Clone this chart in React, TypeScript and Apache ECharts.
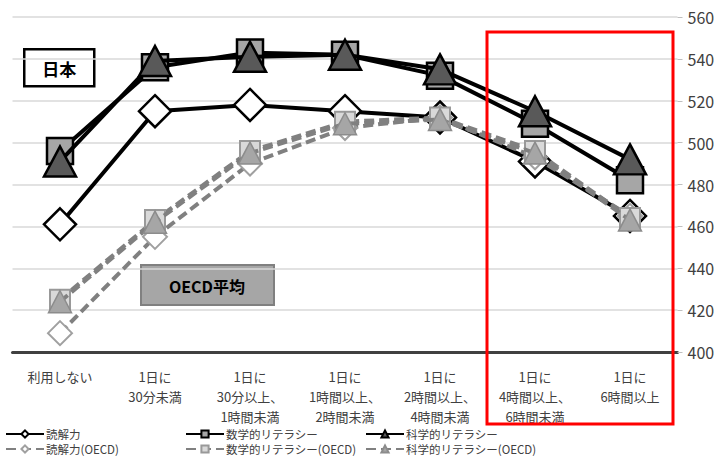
import React, { useEffect, useRef } from "react";
import * as echarts from "echarts";

const categories = [
  "利用しない",
  "1日に\n30分未満",
  "1日に\n30分以上、\n1時間未満",
  "1日に\n1時間以上、\n2時間未満",
  "1日に\n2時間以上、\n4時間未満",
  "1日に\n4時間以上、\n6時間未満",
  "1日に\n6時間以上",
];

const seriesNames = [
  "読解力",
  "数学的リテラシー",
  "科学的リテラシー",
  "読解力(OECD)",
  "数学的リテラシー(OECD)",
  "科学的リテラシー(OECD)",
];

const reading = [461, 515, 518, 515, 512, 491, 465];
const math = [496, 536, 543, 542, 532, 509, 482];
const science = [491, 539, 541, 542, 535, 515, 492];
const readingOECD = [409, 455, 490, 507, 512, 493, 465];
const mathOECD = [425, 463, 496, 510, 512, 496, 464];
const scienceOECD = [424, 462, 495, 509, 511, 495, 463];

const yTicks = [400, 420, 440, 460, 480, 500, 520, 540, 560];

const FONT = "'Noto Sans CJK JP', 'Noto Sans', sans-serif";

export default function App() {
  const ref = useRef<HTMLDivElement>(null);

  useEffect(() => {
    if (!ref.current) return;
    document.body.style.margin = "0";
    const chart = echarts.init(ref.current, undefined, { renderer: "svg" });

    const japanLine = { color: "#000000", width: 4, type: "solid" as const };
    const oecdLine = { color: "#808080", width: 4, type: [10, 5] as any };

    const legendBase = (names: string[], left: number) => ({
      data: names,
      orient: "vertical",
      left,
      top: 427,
      height: 40,
      padding: 0,
      itemWidth: 38,
      itemHeight: 9,
      itemGap: 1,
      textStyle: {
        color: "#404040",
        fontSize: 11.5,
        lineHeight: 14,
        fontFamily: FONT,
        padding: [0, 0, 0, -3],
      },
    });

    const option: any = {
      animation: false,
      backgroundColor: "#ffffff",
      textStyle: { fontFamily: FONT },
      grid: { left: 12.5, right: 43.5, top: 17, bottom: 105, containLabel: false },
      xAxis: {
        type: "category",
        data: categories,
        boundaryGap: true,
        axisLine: { show: true, lineStyle: { color: "#404040", width: 3 } },
        axisTick: { show: false },
        axisLabel: {
          color: "#404040",
          fontSize: 13,
          lineHeight: 20,
          margin: 14,
          interval: 0,
          fontFamily: FONT,
        },
        splitLine: { show: false },
      },
      yAxis: {
        type: "value",
        position: "right",
        min: yTicks[0],
        max: yTicks[yTicks.length - 1],
        interval: 20,
        axisLine: { show: false },
        axisTick: { show: true, length: 5, lineStyle: { color: "#bfbfbf" } },
        axisLabel: { color: "#404040", fontSize: 16, margin: 10, fontFamily: FONT },
        splitLine: { show: true, lineStyle: { color: "#d9d9d9", width: 1.5 } },
      },
      legend: [
        legendBase([seriesNames[0], seriesNames[3]], 5),
        legendBase([seriesNames[1], seriesNames[4]], 185),
        legendBase([seriesNames[2], seriesNames[5]], 365),
      ],
      series: [
        {
          name: seriesNames[0],
          type: "line",
          data: reading,
          symbol: "diamond",
          symbolSize: 32,
          lineStyle: japanLine,
          itemStyle: { color: "#ffffff", borderColor: "#000000", borderWidth: 2.5 },
          z: 2,
        },
        {
          name: seriesNames[1],
          type: "line",
          data: math,
          symbol: "rect",
          symbolSize: 26,
          lineStyle: japanLine,
          itemStyle: { color: "#a6a6a6", borderColor: "#000000", borderWidth: 2.5 },
          z: 3,
        },
        {
          name: seriesNames[2],
          type: "line",
          data: science,
          symbol: "triangle",
          symbolSize: [32, 30],
          lineStyle: japanLine,
          itemStyle: { color: "#595959", borderColor: "#000000", borderWidth: 2.5 },
          z: 4,
        },
        {
          name: seriesNames[3],
          type: "line",
          data: readingOECD,
          symbol: "diamond",
          symbolSize: 24,
          lineStyle: oecdLine,
          itemStyle: { color: "#ffffff", borderColor: "#a0a0a0", borderWidth: 2 },
          z: 5,
        },
        {
          name: seriesNames[4],
          type: "line",
          data: mathOECD,
          symbol: "rect",
          symbolSize: 20,
          lineStyle: oecdLine,
          itemStyle: { color: "#d9d9d9", borderColor: "#999999", borderWidth: 2 },
          z: 6,
        },
        {
          name: seriesNames[5],
          type: "line",
          data: scienceOECD,
          symbol: "triangle",
          symbolSize: [23, 22],
          lineStyle: oecdLine,
          itemStyle: { color: "#a6a6a6", borderColor: "#8c8c8c", borderWidth: 1.5 },
          z: 7,
        },
      ],
      graphic: [
        {
          type: "group",
          left: 23,
          top: 48,
          z: 100,
          children: [
            {
              type: "rect",
              shape: { x: 0, y: 0, width: 70, height: 37 },
              style: { fill: "#ffffff", stroke: "#000000", lineWidth: 2.5 },
            },
            {
              type: "text",
              x: 35,
              y: 19,
              style: {
                text: "日本",
                fill: "#000000",
                font: `bold 17px ${FONT}`,
                align: "center",
                verticalAlign: "middle",
              },
            },
          ],
        },
        {
          type: "group",
          left: 140,
          top: 264,
          z: 100,
          children: [
            {
              type: "rect",
              shape: { x: 0, y: 0, width: 133, height: 40 },
              style: { fill: "#a6a6a6", stroke: "#808080", lineWidth: 2 },
            },
            {
              type: "text",
              x: 66,
              y: 21,
              style: {
                text: "OECD平均",
                fill: "#000000",
                font: `bold 16px ${FONT}`,
                align: "center",
                verticalAlign: "middle",
              },
            },
          ],
        },
        {
          type: "rect",
          z: 110,
          shape: { x: 487, y: 32, width: 186, height: 392 },
          style: { fill: "none", stroke: "#ff0000", lineWidth: 3 },
        },
      ],
    };

    chart.setOption(option);
    return () => chart.dispose();
  }, []);

  return (
    <div
      ref={ref}
      style={{ position: "fixed", left: 0, top: 0, width: 721, height: 457 }}
    />
  );
}
